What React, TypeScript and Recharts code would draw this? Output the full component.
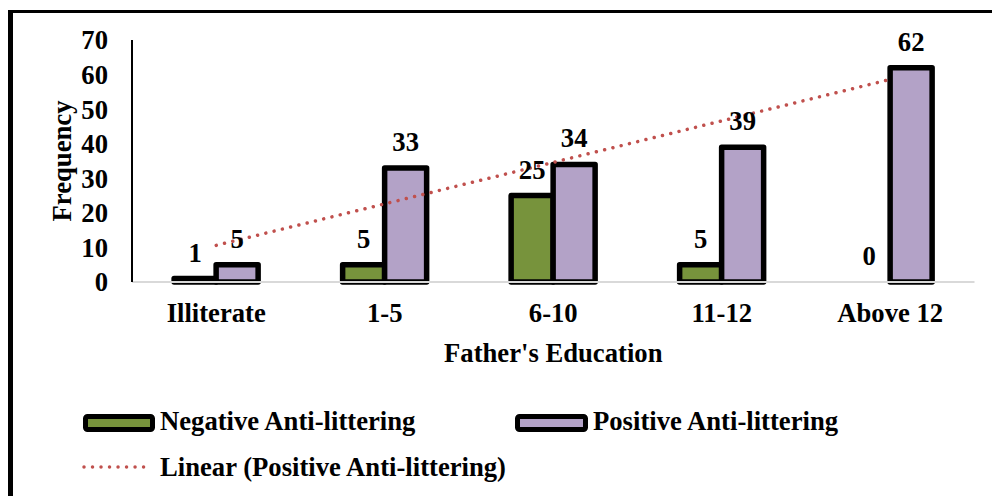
import { ComposedChart, Bar, Line, XAxis, YAxis, LabelList, Legend, Rectangle } from "recharts";

const categories = ["Illiterate", "1-5", "6-10", "11-12", "Above 12"];
const negativeValues = [1, 5, 25, 5, 0];
const positiveValues = [5, 33, 34, 39, 62];
// Linear trendline of the positive series
const trendValues = [10.6, 22.6, 34.6, 46.6, 58.6];
const yTicks = [0, 10, 20, 30, 40, 50, 60, 70];

const data = categories.map((name, i) => ({
  name,
  negative: negativeValues[i],
  positive: positiveValues[i],
  trend: trendValues[i],
}));

const FONT = '"Liberation Serif", "Times New Roman", serif';
const GREEN = "#77933C";
const PURPLE = "#B3A2C7";
const RED = "#C0504D";

const textStyle = { fill: "#000", fontSize: 26.67, fontWeight: "bold" as const, fontFamily: FONT };

// Y axis title, rotated
const renderYLabel = (props: any) => {
  const { viewBox } = props;
  const x = viewBox.x + 11;
  const y = viewBox.y + viewBox.height / 2;
  return (
    <text x={x} y={y} transform={`rotate(-90, ${x}, ${y})`} textAnchor="middle" {...textStyle}>
      Frequency
    </text>
  );
};

// X axis title
const renderXLabel = (props: any) => {
  const { viewBox } = props;
  return (
    <text x={viewBox.x + viewBox.width / 2} y={viewBox.y + 80} textAnchor="middle" {...textStyle}>
      Father's Education
    </text>
  );
};

// zero values keep their label but draw no bar
const barShape = (props: any) => (props.value > 0 ? <Rectangle {...props} /> : <g />);

const renderLegend = () => (
  <svg width={992} height={100} style={{ display: "block" }}>
    <rect x={85.5} y={21.5} width={67} height={13} rx={2} fill={GREEN} stroke="#000" strokeWidth={5} />
    <text x={160} y={35} {...textStyle}>Negative Anti-littering</text>
    <rect x={517.5} y={21.5} width={68} height={13} rx={2} fill={PURPLE} stroke="#000" strokeWidth={5} />
    <text x={593} y={35} {...textStyle}>Positive Anti-littering</text>
    <line x1={84} y1={72} x2={148} y2={72} stroke={RED} strokeWidth={3.5} strokeDasharray="0.01 8.5" strokeLinecap="round" />
    <text x={160} y={81} {...textStyle}>Linear (Positive Anti-littering)</text>
  </svg>
);

export default function App() {
  return (
    <div style={{ position: "fixed", top: 0, left: 0, width: 992, height: 496, overflow: "hidden", background: "#fff" }}>
      <div
        style={{
          position: "absolute",
          left: 8,
          top: 10,
          width: 1000,
          height: 500,
          borderLeft: "5px solid #000",
          borderTop: "3px solid #000",
        }}
      />
      <div style={{ position: "absolute", top: 0, left: 0 }}>
        <ComposedChart
          width={992}
          height={496}
          data={data}
          margin={{ top: 40, right: 17.5, left: 60, bottom: 114 }}
          barCategoryGap="25%"
          barGap={0}
        >
          <XAxis
            dataKey="name"
            height={100}
            axisLine={{ stroke: "#D9D9D9", strokeWidth: 2 }}
            tickLine={false}
            tickSize={0}
            tickMargin={21}
            tick={textStyle}
            interval={0}
            label={{ content: renderXLabel }}
          />
          <YAxis
            width={72}
            domain={[0, 70]}
            ticks={yTicks}
            interval={0}
            axisLine={{ stroke: "#000", strokeWidth: 2 }}
            tickLine={false}
            tickSize={0}
            tickMargin={24}
            tick={textStyle}
            label={{ content: renderYLabel }}
          />
          <Bar
            dataKey="negative"
            fill={GREEN}
            stroke="#000"
            strokeWidth={5.5}
            strokeLinejoin="round"
            minPointSize={0.5}
            shape={barShape}
            isAnimationActive={false}
          >
            <LabelList dataKey="negative" position="top" offset={17} style={textStyle} />
          </Bar>
          <Bar
            dataKey="positive"
            fill={PURPLE}
            stroke="#000"
            strokeWidth={5.5}
            strokeLinejoin="round"
            isAnimationActive={false}
          >
            <LabelList dataKey="positive" position="top" offset={17} style={textStyle} />
          </Bar>
          <Line
            dataKey="trend"
            type="linear"
            stroke={RED}
            strokeWidth={3.5}
            strokeDasharray="0.01 8.5"
            strokeLinecap="round"
            dot={false}
            activeDot={false}
            isAnimationActive={false}
          />
          <Legend
            verticalAlign="middle"
            align="center"
            content={renderLegend}
            wrapperStyle={{ top: 395, left: 0, width: 992, height: 100, margin: 0 }}
          />
        </ComposedChart>
      </div>
    </div>
  );
}
